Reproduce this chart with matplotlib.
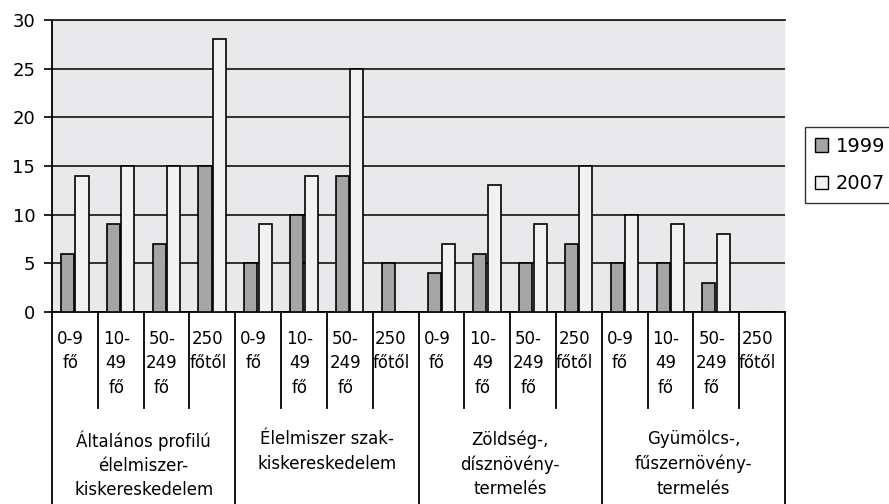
import matplotlib.pyplot as plt
import matplotlib.transforms as mtransforms
from matplotlib.patches import Patch
import numpy as np

groups = ["Általános profilú\nélelmiszer-\nkiskereskedelem",
          "Élelmiszer szak-\nkiskereskedelem",
          "Zöldség-,\ndísznövény-\ntermelés",
          "Gyümölcs-,\nfűszernövény-\ntermelés"]
sizes = ["0-9\nfő", "10-\n49\nfő", "50-\n249\nfő", "250\nfőtől"]
v1999 = [6, 9, 7, 15, 5, 10, 14, 5, 4, 6, 5, 7, 5, 5, 3, 0]
v2007 = [14, 15, 15, 28, 9, 14, 25, 0, 7, 13, 9, 15, 10, 9, 8, 0]

plt.rcParams['font.family'] = 'DejaVu Sans'
fig = plt.figure(figsize=(8.89, 5.04), dpi=100)
ax = fig.add_axes([52/889, 192/504, 733/889, 292/504])
ax.set_facecolor('#e9e9eb')

x = np.arange(len(v1999))
w = 0.285
ax.bar(x - 0.16, v1999, w, color='#a5a5a7', edgecolor='black', linewidth=1.2, zorder=3)
ax.bar(x + 0.155, v2007, w, color='#f1f2f4', edgecolor='black', linewidth=1.2, zorder=3)

ax.set_xlim(-0.5, len(x) - 0.5)
ax.set_ylim(0, 30)
ax.set_yticks(range(0, 31, 5))
ax.yaxis.grid(True, color='#222222', linewidth=1.3, zorder=1)
ax.set_axisbelow(True)
ax.tick_params(axis='y', labelsize=13, length=6, width=1.2, direction='out', pad=6)
ax.set_xticks([])
ax.spines['right'].set_visible(False)
for s in ['left', 'bottom', 'top']:
    ax.spines[s].set_linewidth(1.3)
ax.spines['top'].set_color('#222222')

# category table under the axis
tr = mtransforms.blended_transform_factory(ax.transData, ax.transAxes)
bottom = -0.66
for b in np.arange(-0.5, len(x), 1.0):
    full = (b + 0.5) % 4 == 0
    ax.plot([b, b], [0, bottom if full else -0.329], color='black', linewidth=1.3,
            transform=tr, clip_on=False)

for i in x:
    ax.text(i - 0.1, -0.062, sizes[i % 4], transform=tr, ha='center', va='top',
            fontsize=12, linespacing=1.45, multialignment='center')

for g, name in enumerate(groups):
    ax.text(g * 4 + 1.5, -0.405, name, transform=tr, ha='center', va='top',
            fontsize=12, linespacing=1.45, multialignment='center')

handles = [Patch(facecolor='#a5a5a7', edgecolor='black', label='1999'),
           Patch(facecolor='#f1f2f4', edgecolor='black', label='2007')]
fig.legend(handles=handles, loc='upper left', bbox_to_anchor=(805/889, 1 - 127/504),
           frameon=True, fancybox=False, edgecolor='black', fontsize=14,
           handlelength=0.7, handleheight=0.7, handletextpad=0.4,
           borderpad=0.5, labelspacing=0.95, borderaxespad=0)

fig.savefig('out.png', dpi=100)
